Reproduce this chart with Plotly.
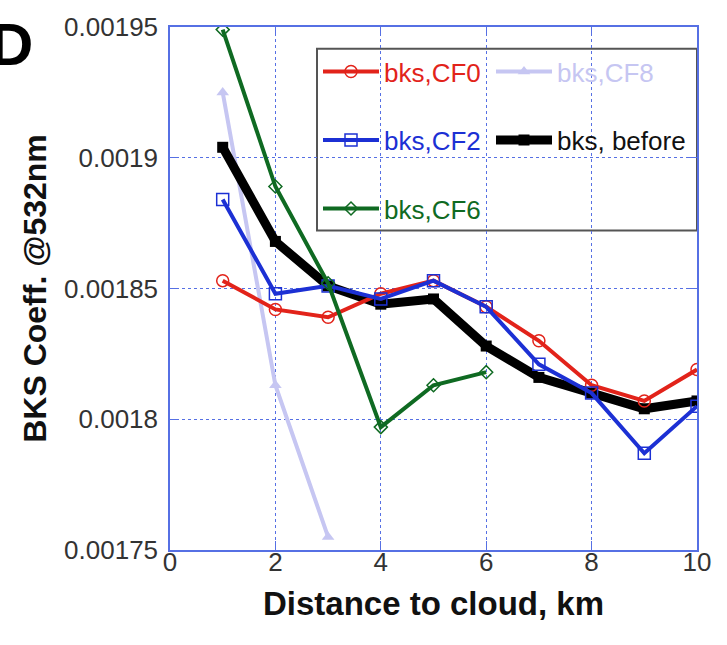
import plotly.graph_objects as go

# Distance to cloud (km)
dist = [1, 2, 3, 4, 5, 6, 7, 8, 9, 10]

# Backscatter coefficient at 532 nm for each cloud-fraction class
bks_cf0 = [0.001853, 0.001842, 0.001839, 0.001848, 0.001853, 0.001843, 0.001830, 0.001813, 0.001807, 0.001819]
bks_cf2 = [0.001884, 0.001848, 0.001851, 0.001846, 0.001853, 0.001843, 0.001821, 0.001810, 0.001787, 0.001805]
bks_before = [0.001904, 0.001868, 0.001851, 0.001844, 0.001846, 0.001828, 0.001816, 0.001810, 0.001804, 0.001807]
dist_cf6 = [1, 2, 3, 4, 5, 6]
bks_cf6 = [0.001949, 0.001889, 0.001852, 0.001797, 0.001813, 0.001818]
dist_cf8 = [1, 2, 3]
bks_cf8 = [0.001925, 0.001813, 0.001755]

# Axis ticks
x_ticks = [0, 2, 4, 6, 8, 10]
y_ticks = [0.00175, 0.0018, 0.00185, 0.0019, 0.00195]
y_ticktext = ["0.00175", "0.0018", "0.00185", "0.0019", "0.00195"]

RED = "#e2231a"
BLUE = "#1c30d4"
GREEN = "#0f6a22"
LAV = "#c6c6f2"
BLACK = "#000000"
FRAME = "#5670e4"
TICKTXT = "#333333"
FONT = "Liberation Sans, Arial, sans-serif"


def label(text, color):
    return f'<span style="color:{color}">{text}</span>'


fig = go.Figure()

# draw order: light CF8 at the back, CF6 on top; each entry has its own legend slot
fig.add_trace(go.Scatter(
    x=dist_cf8, y=bks_cf8, mode="lines+markers", name=label("bks,CF8", LAV),
    line=dict(color=LAV, width=4),
    marker=dict(symbol="triangle-up", size=11, color=LAV),
    legend="legend2", showlegend=True))
fig.add_trace(go.Scatter(
    x=dist, y=bks_before, mode="lines+markers", name=label("bks, before", "#111111"),
    line=dict(color=BLACK, width=9),
    marker=dict(symbol="square", size=11, color=BLACK),
    legend="legend4", showlegend=True))
fig.add_trace(go.Scatter(
    x=dist, y=bks_cf0, mode="lines+markers", name=label("bks,CF0", RED),
    line=dict(color=RED, width=4),
    marker=dict(symbol="circle-open", size=12, color=RED, line=dict(width=1.5)),
    legend="legend", showlegend=True))
fig.add_trace(go.Scatter(
    x=dist, y=bks_cf2, mode="lines+markers", name=label("bks,CF2", BLUE),
    line=dict(color=BLUE, width=4),
    marker=dict(symbol="square-open", size=12, color=BLUE, line=dict(width=1.5)),
    legend="legend3", showlegend=True))
fig.add_trace(go.Scatter(
    x=dist_cf6, y=bks_cf6, mode="lines+markers", name=label("bks,CF6", GREEN),
    line=dict(color=GREEN, width=4),
    marker=dict(symbol="diamond-open", size=10, color=GREEN, line=dict(width=1.5)),
    legend="legend5", showlegend=True))

leg_common = dict(
    orientation="h", xanchor="left", yanchor="middle",
    bgcolor="rgba(0,0,0,0)", borderwidth=0,
    font=dict(family=FONT, size=26), itemwidth=56,
)
L, R, T, B = 170, 30, 23, 95
W, H = 727, 645
pw, ph = W - L - R, H - T - B


def px_x(p):
    return (p - L) / pw


def px_y(p):
    return 1 - (p - T) / ph


col1, col2 = 318, 491
row1, row2, row3 = 68, 137, 206

fig.update_layout(
    width=W, height=H,
    margin=dict(l=L, r=R, t=T, b=B),
    paper_bgcolor="white", plot_bgcolor="white",
    font=dict(family=FONT, color=TICKTXT),
    showlegend=True,
    legend=dict(x=px_x(col1), y=px_y(row1), **leg_common),
    legend2=dict(x=px_x(col2), y=px_y(row1), **leg_common),
    legend3=dict(x=px_x(col1), y=px_y(row2), **leg_common),
    legend4=dict(x=px_x(col2), y=px_y(row2), **leg_common),
    legend5=dict(x=px_x(col1), y=px_y(row3), **leg_common),
    xaxis=dict(
        range=[0, 10], tickvals=x_ticks, ticktext=[str(v) for v in x_ticks],
        showline=True, linecolor=FRAME, linewidth=1.5, mirror="ticks",
        ticks="inside", ticklen=9, tickcolor=FRAME, tickwidth=1.2,
        showgrid=True, gridcolor=FRAME, gridwidth=1, griddash="dot",
        zeroline=False, ticklabelstandoff=-12,
        tickfont=dict(size=26, color=TICKTXT),
        title=dict(text="<b>Distance to cloud, km</b>", standoff=16,
                   font=dict(size=33, color="#111111")),
    ),
    yaxis=dict(
        range=[0.00175, 0.00195], tickvals=y_ticks, ticktext=y_ticktext,
        showline=True, linecolor=FRAME, linewidth=1.5, mirror="ticks",
        ticks="inside", ticklen=9, tickcolor=FRAME, tickwidth=1.2,
        showgrid=True, gridcolor=FRAME, gridwidth=1, griddash="dot",
        zeroline=False, ticklabelstandoff=5,
        tickfont=dict(size=26, color=TICKTXT),
        title=dict(text="<b>BKS Coeff. @532nm</b>", standoff=8,
                   font=dict(size=32, color="#111111")),
    ),
)

# legend frame
fig.add_shape(type="rect", xref="paper", yref="paper",
              x0=px_x(317), x1=px_x(697), y0=px_y(228), y1=px_y(45),
              line=dict(color="#555555", width=2), fillcolor="white", layer="below")

# panel letter
fig.add_annotation(text="<b>D</b>", xref="paper", yref="paper",
                   x=px_x(-12), y=px_y(5), xanchor="left", yanchor="top",
                   showarrow=False,
                   font=dict(family=FONT, size=60, color="#000000"))

fig.write_html("out.html")
